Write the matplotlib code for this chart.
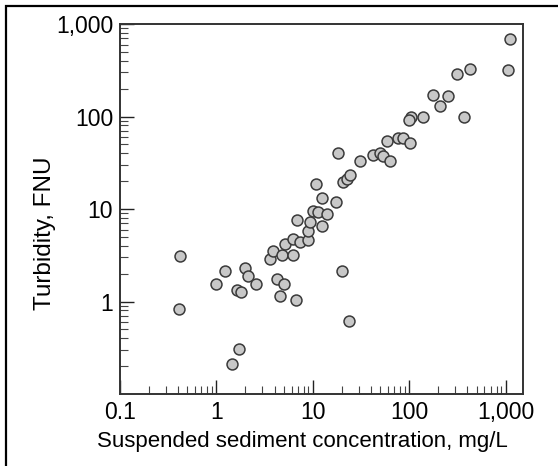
import matplotlib.pyplot as plt
from matplotlib.ticker import LogLocator, FixedLocator, FixedFormatter, NullFormatter
from matplotlib.patches import Rectangle

plt.rcParams['font.family'] = ['Liberation Sans', 'DejaVu Sans']

# =========================
# DATA
# =========================
ssc = [0.42, 0.41, 1.0, 1.22, 1.97, 2.1, 2.6, 1.62, 1.8, 1.71, 1.46,
       3.6, 3.9, 4.2, 5.0, 4.55, 6.7, 4.8, 6.2, 5.1, 6.2, 7.3, 8.9,
       6.9, 8.9, 9.3, 12.3, 10.1, 11.4, 13.9, 10.7, 12.3, 17.3, 18.3,
       20.4, 22.3, 24.2, 20.0, 23.8, 30.7, 42, 49.4, 53.6, 62.8, 58,
       76.6, 86, 101, 105, 100, 139, 177, 252, 207, 370, 308, 424,
       1057, 1100]
turb = [3.1, 0.82, 1.53, 2.15, 2.3, 1.87, 1.53, 1.32, 1.28, 0.31, 0.21,
        2.85, 3.5, 1.77, 1.53, 1.14, 1.03, 3.15, 3.2, 4.2, 4.75, 4.45, 4.6,
        7.6, 5.8, 7.3, 6.5, 9.6, 9.2, 8.8, 18.6, 13.0, 11.8, 40.7,
        19.4, 21.0, 23.5, 2.15, 0.61, 33, 38, 40.7, 37.6, 33, 54,
        59, 59, 52, 100, 92, 99, 172, 168, 129, 100, 290, 328,
        320, 685]

x_ticks = [0.1, 1, 10, 100, 1000]
x_labels = ["0.1", "1", "10", "100", "1,000"]
y_ticks = [1, 10, 100, 1000]
y_labels = ["1", "10", "100", "1,000"]

# =========================
# FIGURE
# =========================
fig = plt.figure(figsize=(5.58, 4.66), dpi=100)
ax = fig.add_axes([0.215, 0.1545, 0.722, 0.794])

ax.scatter(ssc, turb, s=62, facecolor="#c8c8c8", edgecolor="#3a3a3a",
           linewidth=1.1, zorder=3)

ax.set_xscale("log")
ax.set_yscale("log")
ax.set_xlim(0.1, 1500)
ax.set_ylim(0.1, 1000)

ax.xaxis.set_major_locator(FixedLocator(x_ticks))
ax.xaxis.set_major_formatter(FixedFormatter(x_labels))
ax.yaxis.set_major_locator(FixedLocator(y_ticks))
ax.yaxis.set_major_formatter(FixedFormatter(y_labels))
ax.xaxis.set_minor_locator(LogLocator(base=10, subs=range(2, 10), numticks=20))
ax.yaxis.set_minor_locator(LogLocator(base=10, subs=range(2, 10), numticks=20))
ax.xaxis.set_minor_formatter(NullFormatter())
ax.yaxis.set_minor_formatter(NullFormatter())

ax.tick_params(which="major", direction="in", length=10, width=1.0,
               color="#222222", labelsize=16.5, pad=5)
ax.tick_params(which="minor", direction="in", length=6, width=0.8,
               color="#444444")
ax.tick_params(top=False, right=False, which="both")

for sp in ax.spines.values():
    sp.set_linewidth(1.4)
    sp.set_color("#333333")

fig.text(0.542, 0.052, "Suspended sediment concentration, mg/L",
         ha="center", va="center", fontsize=16)
fig.text(0.08, 0.5, "Turbidity, FNU", rotation=90,
         ha="center", va="center", fontsize=17.5)

# outer frame (only left/top edges show in the reference)
fig.patches.append(Rectangle((6 / 558, -0.05), 1.2, 1 - 6 / 466 + 0.05,
                             transform=fig.transFigure, fill=False,
                             edgecolor="black", linewidth=1.6))

fig.savefig("out.png", dpi=100)
